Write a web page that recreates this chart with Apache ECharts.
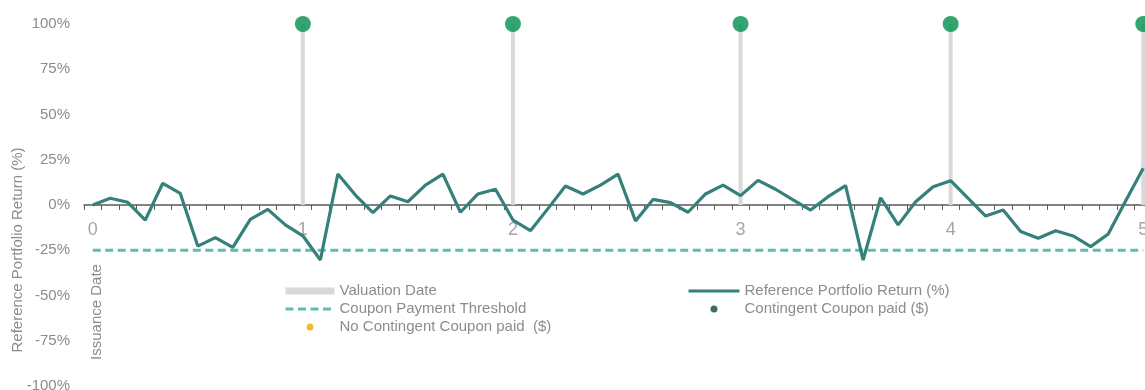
<!DOCTYPE html>
<html>
<head>
<meta charset="utf-8">
<script src="https://cdn.jsdelivr.net/npm/echarts@6/dist/echarts.min.js"></script>
<style>
html,body{margin:0;padding:0;background:#fff;}
#chart{width:1145px;height:390px;}
</style>
</head>
<body>
<div id="chart"></div>
<script>
// ---- data ----
var periodCount = 61; // observation periods 0..60
var portfolioReturn = [0, 3.7, 1.5, -8.3, 12, 6.4, -22.7, -18, -23.4, -7.9, -2.4, -11, -17,
  -30.4, 17.1, 5.5, -4.2, 5, 1.8, 11, 17.1, -4, 6.1, 8.7, -8.3,
  -14.2, -2, 10.5, 6.1, 11, 17.1, -8.8, 3.1, 1.3, -4, 6.1, 11, 5.2,
  13.6, 8.7, 2.8, -2.8, 4.6, 10.7, -30.4, 4, -11, 1.8, 10.1, 13.4,
  3.6, -6.1, -2.8, -14.7, -18.4, -14.2, -17.1, -23, -16, 2.4, 20.3];
var couponThreshold = -25;
var valuationIndices = [12, 24, 37, 49, 60];
var valuationLevel = [100, 100, 100, 100, 100];
var couponPaidLevel = [100, 100, 100, 100, 100];
var noCouponIndices = [];
var noCouponLevel = [];
var tickLabelIndices = [0, 12, 24, 37, 49, 60];
var tickLabels = ['0', '1', '2', '3', '4', '5'];
var yTickLabels = ['-100%', '-75%', '-50%', '-25%', '0%', '25%', '50%', '75%', '100%'];

// ---- build ----
var categories = [];
for (var i = 0; i < periodCount; i++) categories.push(String(i));
var thresholdData = categories.map(function () { return couponThreshold; });
var valuationData = categories.map(function () { return '-'; });
valuationIndices.forEach(function (idx, k) { valuationData[idx] = valuationLevel[k]; });
var paidData = valuationIndices.map(function (idx, k) { return [idx, couponPaidLevel[k]]; });
var noPaidData = noCouponIndices.map(function (idx, k) { return [idx, noCouponLevel[k]]; });

var GRID_TOP = 24, GRID_BOTTOM = 4, CHART_H = 390;
var gridHeight = CHART_H - GRID_TOP - GRID_BOTTOM;
// place the category axis at the 0% level (half-way in a symmetric -100..100 range)
var xAxisOffset = -gridHeight / 2;

var FONT = 'Liberation Sans, Arial, sans-serif';
var HIDDEN_SYMBOL = { color: 'rgba(0,0,0,0)', borderWidth: 0, opacity: 0 };
var chart = echarts.init(document.getElementById('chart'));
chart.setOption({
  animation: false,
  backgroundColor: '#ffffff',
  textStyle: { fontFamily: FONT },
  grid: { left: 84, right: -7, top: GRID_TOP, bottom: GRID_BOTTOM, containLabel: false, outerBoundsMode: 'none' },
  xAxis: {
    type: 'category',
    data: categories,
    boundaryGap: true,
    position: 'bottom',
    offset: xAxisOffset,
    axisLine: { show: true, onZero: false, lineStyle: { color: '#595959', width: 1.5 } },
    axisTick: { show: true, interval: 0, length: 5, lineStyle: { color: '#595959', width: 1 } },
    axisLabel: {
      interval: function (index) { return tickLabelIndices.indexOf(index) >= 0; },
      formatter: function (val) {
        var k = tickLabelIndices.indexOf(Number(val));
        return k >= 0 ? tickLabels[k] : '';
      },
      color: '#a6a6a6', fontSize: 18, margin: 16, fontFamily: FONT, hideOverlap: false
    },
    splitLine: { show: false }
  },
  yAxis: {
    type: 'value',
    min: -100, max: 100, interval: 25,
    axisLine: { show: false },
    axisTick: { show: false },
    splitLine: { show: false },
    axisLabel: {
      formatter: function (v) { return yTickLabels[Math.round((v + 100) / 25)]; },
      color: '#8c8c8c', fontSize: 15, margin: 14, fontFamily: FONT
    }
  },
  legend: [{
    orient: 'vertical', left: 284, top: 282, padding: 0, itemGap: 0,
    itemWidth: 49, itemHeight: 7,
    textStyle: { color: '#8c8c8c', fontSize: 15, lineHeight: 18, fontFamily: FONT },
    data: [
      { name: 'Valuation Date', icon: 'rect' },
      { name: 'Coupon Payment Threshold', itemStyle: HIDDEN_SYMBOL,
        lineStyle: { width: 3, color: '#5cbdb4', type: [8, 4.5] } },
      { name: 'No Contingent Coupon paid  ($)', icon: 'circle' }
    ]
  }, {
    orient: 'vertical', left: 687, top: 282, padding: 0, itemGap: 0,
    itemWidth: 51, itemHeight: 7,
    textStyle: { color: '#8c8c8c', fontSize: 15, lineHeight: 18, fontFamily: FONT },
    data: [
      { name: 'Reference Portfolio Return (%)', itemStyle: HIDDEN_SYMBOL,
        lineStyle: { width: 3, color: '#35807a' } },
      { name: 'Contingent Coupon paid ($)', icon: 'circle' }
    ]
  }],
  graphic: [{
    type: 'text',
    rotation: Math.PI / 2, x: 18, y: 250,
    style: { text: 'Reference Portfolio Return (%)', fill: '#8c8c8c', font: '15px ' + FONT, align: 'center', verticalAlign: 'middle' }
  }, {
    type: 'text',
    rotation: Math.PI / 2, x: 97, y: 312,
    style: { text: 'Issuance Date', fill: '#8c8c8c', font: '15px ' + FONT, align: 'center', verticalAlign: 'middle' }
  }],
  series: [{
    name: 'Valuation Date',
    type: 'bar',
    data: valuationData,
    barWidth: 4,
    itemStyle: { color: '#d9d9d9' },
    z: 1
  }, {
    name: 'Coupon Payment Threshold',
    type: 'line',
    data: thresholdData,
    symbol: 'none',
    lineStyle: { color: '#5cbdb4', width: 3, type: [8, 4.5] },
    itemStyle: { color: '#5cbdb4' },
    z: 2
  }, {
    name: 'Reference Portfolio Return (%)',
    type: 'line',
    data: portfolioReturn,
    symbol: 'none',
    lineStyle: { color: '#35807a', width: 3.2 },
    itemStyle: { color: '#35807a' },
    z: 3
  }, {
    name: 'No Contingent Coupon paid  ($)',
    type: 'scatter',
    data: noPaidData,
    symbolSize: 16,
    itemStyle: { color: '#f5a800' },
    z: 4
  }, {
    name: 'Contingent Coupon paid ($)',
    type: 'scatter',
    data: paidData.map(function (p) { return { value: p, itemStyle: { color: '#008f4c' } }; }),
    symbolSize: 16,
    itemStyle: { color: '#0b4a2e' },
    z: 5
  }]
});
</script>
</body>
</html>
